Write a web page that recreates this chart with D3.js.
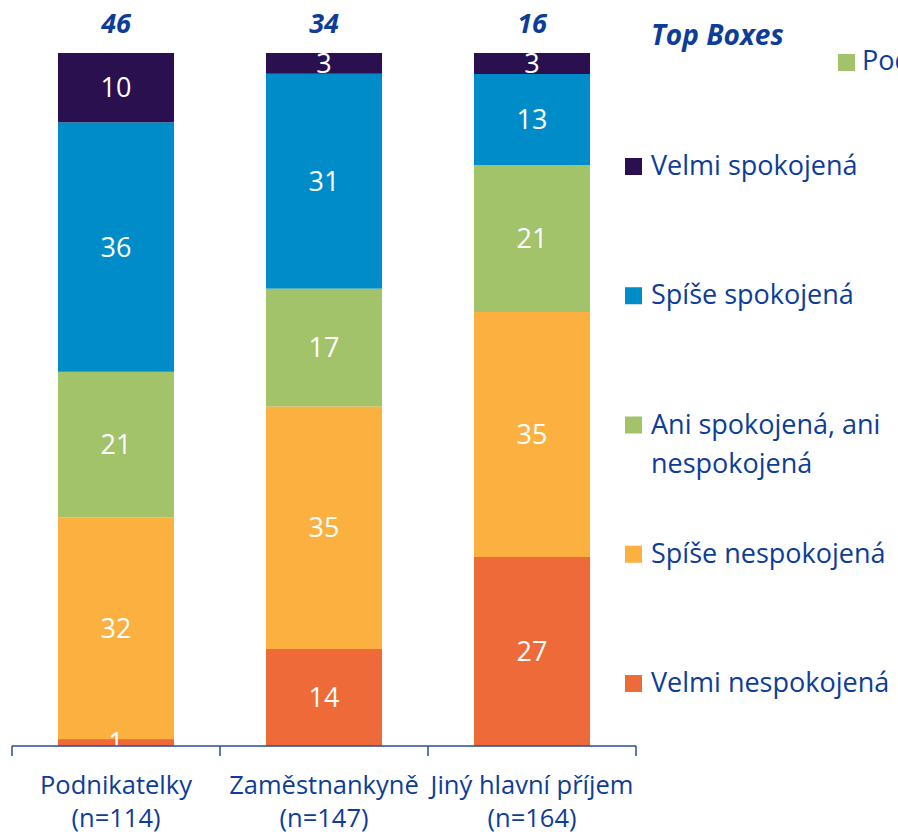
<!DOCTYPE html>
<html>
<head>
<meta charset="utf-8">
<style>
  body { margin: 0; background: #fff; }
  text { font-family: "Open Sans", "Noto Sans", sans-serif; }
</style>
</head>
<body>
<svg id="chart" width="898" height="834"></svg>
<script src="https://d3js.org/d3.v7.min.js"></script>
<script>
var categories = ["Podnikatelky", "Zaměstnankyně", "Jiný hlavní příjem"];
var sampleSizes = ["(n=114)", "(n=147)", "(n=164)"];

// bottom to top
var seriesNames = ["Velmi nespokojená", "Spíše nespokojená", "Ani spokojená, ani nespokojená", "Spíše spokojená", "Velmi spokojená"];
var velmiNespokojena = [1, 14, 27];
var spiseNespokojena = [32, 35, 35];
var aniAni = [21, 17, 21];
var spiseSpokojena = [36, 31, 13];
var velmiSpokojena = [10, 3, 3];
var colors = ["#ee6a38", "#fbb040", "#a2c36a", "#008bc9", "#2b1050"];

var textColor = "#0d3c99";
var allSeries = [velmiNespokojena, spiseNespokojena, aniAni, spiseSpokojena, velmiSpokojena];

var rows = categories.map(function (c, i) {
  var r = { cat: c };
  seriesNames.forEach(function (s, j) { r[s] = allSeries[j][i]; });
  return r;
});

var svg = d3.select("#chart");

var x = d3.scaleBand()
    .domain(categories)
    .range([12, 636])
    .paddingInner(0.442)
    .paddingOuter(0.221);

var y = d3.scaleLinear()
    .domain([0, 1])
    .range([746, 53]);

var stack = d3.stack()
    .keys(seriesNames)
    .offset(d3.stackOffsetExpand);
var stacked = stack(rows);

var layer = svg.selectAll("g.layer")
  .data(stacked)
  .enter().append("g")
    .attr("class", "layer")
    .attr("fill", function (d, i) { return colors[i]; });

layer.selectAll("rect")
  .data(function (d) { return d; })
  .enter().append("rect")
    .attr("x", function (d) { return x(d.data.cat); })
    .attr("y", function (d) { return y(d[1]); })
    .attr("width", x.bandwidth())
    .attr("height", function (d) { return y(d[0]) - y(d[1]); });

// values inside segments
stacked.forEach(function (s) {
  svg.selectAll(null)
    .data(s)
    .enter().append("text")
      .attr("x", function (d) { return x(d.data.cat) + x.bandwidth() / 2; })
      .attr("y", function (d) { return (y(d[0]) + y(d[1])) / 2; })
      .attr("dy", "0.36em")
      .attr("text-anchor", "middle")
      .attr("fill", "#fff")
      .style("font-size", "27px")
      .text(function (d) { return d.data[s.key]; });
});

// axis
var axisG = svg.append("g").attr("stroke", "#2a4a9c").attr("stroke-width", 1.5);
axisG.append("line")
    .attr("x1", x.range()[0]).attr("x2", x.range()[1])
    .attr("y1", y(0)).attr("y2", y(0));
var tickX = categories.map(function (c) { return x(c) - x.step() * x.paddingOuter(); });
tickX.push(x.range()[1]);
axisG.selectAll("line.tick")
  .data(tickX)
  .enter().append("line")
    .attr("class", "tick")
    .attr("x1", function (d) { return d; }).attr("x2", function (d) { return d; })
    .attr("y1", y(0)).attr("y2", y(0) + 10);

var catLabel = svg.selectAll("text.cat")
  .data(categories)
  .enter().append("text")
    .attr("class", "cat")
    .attr("text-anchor", "middle")
    .attr("fill", textColor)
    .style("font-size", "25.5px");
catLabel.append("tspan")
    .attr("x", function (d) { return x(d) + x.bandwidth() / 2; })
    .attr("y", 794)
    .text(function (d) { return d; });
catLabel.append("tspan")
    .attr("x", function (d) { return x(d) + x.bandwidth() / 2; })
    .attr("y", 827)
    .text(function (d, i) { return sampleSizes[i]; });

// top boxes
svg.selectAll("text.top")
  .data(rows)
  .enter().append("text")
    .attr("class", "top")
    .attr("x", function (d) { return x(d.cat) + x.bandwidth() / 2; })
    .attr("y", 33)
    .attr("text-anchor", "middle")
    .attr("fill", textColor)
    .style("font-size", "27px")
    .style("font-weight", "bold")
    .style("font-style", "italic")
    .text(function (d) { return d["Velmi spokojená"] + d["Spíše spokojená"]; });

svg.append("text")
    .attr("x", 651)
    .attr("y", 45)
    .attr("fill", textColor)
    .style("font-size", "28px")
    .style("font-weight", "bold")
    .style("font-style", "italic")
    .text("Top Boxes");

// legend item cut off at the right edge, as in the source
svg.append("rect")
    .attr("x", 838).attr("y", 54).attr("width", 17).attr("height", 17)
    .attr("fill", colors[2]);
svg.append("text")
    .attr("x", 862).attr("y", 70)
    .attr("fill", textColor)
    .style("font-size", "27px")
    .text("Podíl");

// legend
var legendItems = seriesNames.slice().reverse();
var legendColors = colors.slice().reverse();
var legendY = d3.scaleLinear().domain([0, 4]).range([175, 692]);

var lg = svg.selectAll("g.legend")
  .data(legendItems)
  .enter().append("g")
    .attr("class", "legend")
    .attr("transform", function (d, i) { return "translate(625," + legendY(i) + ")"; });
lg.append("rect")
    .attr("x", 0).attr("y", -17).attr("width", 17).attr("height", 17)
    .attr("fill", function (d, i) { return legendColors[i]; });
var lt = lg.append("text")
    .attr("fill", textColor)
    .style("font-size", "27px");
lt.each(function (d) {
  var t = d3.select(this);
  var lines = d === "Ani spokojená, ani nespokojená" ? ["Ani spokojená, ani", "nespokojená"] : [d];
  lines.forEach(function (l, k) {
    t.append("tspan").attr("x", 26).attr("y", k * 39).text(l);
  });
});
</script>
</body>
</html>
